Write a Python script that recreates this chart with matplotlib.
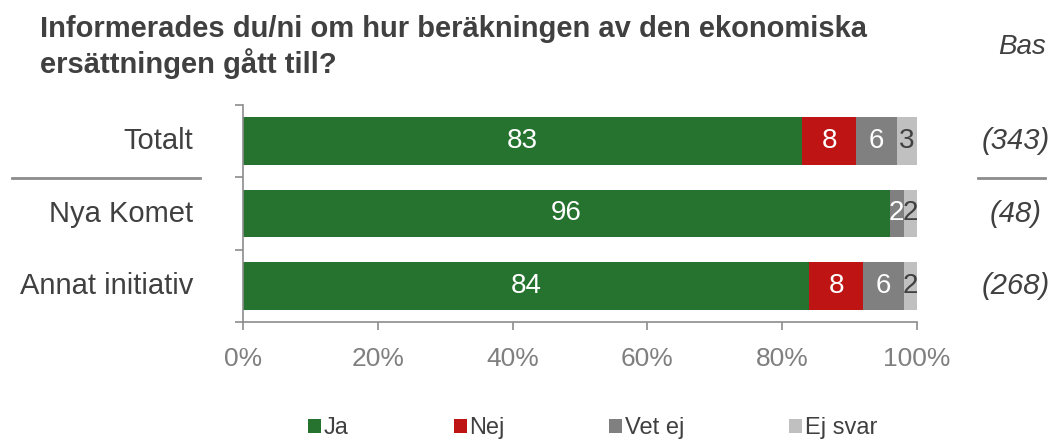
import matplotlib
matplotlib.use('Agg')
import matplotlib.pyplot as plt
from matplotlib.patches import Patch

plt.rcParams['font.family'] = ['Liberation Sans', 'DejaVu Sans']

# data
categories = ['Totalt', 'Nya Komet', 'Annat initiativ']
bases = ['(343)', '(48)', '(268)']
series = ['Ja', 'Nej', 'Vet ej', 'Ej svar']
ja = [83, 96, 84]
nej = [8, 0, 8]
vet_ej = [6, 2, 6]
ej_svar = [3, 2, 2]
ticks = [0, 20, 40, 60, 80, 100]
tick_labels = ['0%', '20%', '40%', '60%', '80%', '100%']

colors = ['#25732f', '#be1414', '#808080', '#c0c0c0']
label_colors = ['white', 'white', 'white', '#404040']
text_col = '#404040'
axis_col = '#8c8c8c'

fig = plt.figure(figsize=(10.62, 4.41), dpi=100)
ax = fig.add_axes([243 / 1062, 1 - 322 / 441, (917 - 243) / 1062, (322 - 105) / 441])

y = list(range(len(categories)))
left = [0] * len(categories)
for vals, col, lcol in zip([ja, nej, vet_ej, ej_svar], colors, label_colors):
    ax.barh(y, vals, left=left, height=0.66, color=col)
    for i, v in enumerate(vals):
        if v > 0:
            ax.text(left[i] + v / 2, i, str(v), ha='center', va='center',
                    color=lcol, fontsize=20)
    left = [l + v for l, v in zip(left, vals)]

ax.set_xlim(0, 100)
ax.set_ylim(2.5, -0.5)
ax.set_xticks(ticks)
ax.set_xticklabels(tick_labels, fontsize=19, color='#7f7f7f')
ax.set_yticks([-0.5, 0.5, 1.5, 2.5])
ax.set_yticklabels([])
ax.tick_params(axis='both', direction='out', length=6, color=axis_col, width=1.2)
ax.tick_params(axis='x', pad=12)
for s in ['top', 'right']:
    ax.spines[s].set_visible(False)
for s in ['left', 'bottom']:
    ax.spines[s].set_color(axis_col)
    ax.spines[s].set_linewidth(1.2)

# category labels and bases (offsets in points, 1px = 0.72pt)
for i, (c, b) in enumerate(zip(categories, bases)):
    ax.annotate(c, xy=(0, i), xycoords=('axes fraction', 'data'),
                xytext=(-36, 0), textcoords='offset points', ha='right', va='center',
                fontsize=21, color=text_col)
    ax.annotate(b, xy=(1, i), xycoords=('axes fraction', 'data'),
                xytext=(71, 0), textcoords='offset points', ha='center', va='center',
                fontsize=21, color=text_col, style='italic')

# separator lines below Totalt
sep_y = 1 - 178 / 441
fig.add_artist(plt.Line2D([12 / 1062, 200 / 1062], [sep_y, sep_y], color=axis_col, lw=2))
fig.add_artist(plt.Line2D([978 / 1062, 1045 / 1062], [sep_y, sep_y], color=axis_col, lw=2))

fig.text(40 / 1062, 1 - 15 / 441,
         'Informerades du/ni om hur beräkningen av den ekonomiska\nersättningen gått till?',
         ha='left', va='top', fontsize=21, fontweight='bold', color=text_col, linespacing=1.2)
fig.text(1022 / 1062, 1 - 47 / 441, 'Bas', ha='center', va='center', fontsize=20,
         style='italic', color=text_col)

handles = [Patch(facecolor=c, edgecolor='none') for c in colors]
leg = fig.legend(handles, series, loc='center', bbox_to_anchor=(0.558, 1 - 428 / 441), ncol=4,
                 frameon=False, fontsize=17, handlelength=0.55, handleheight=0.55,
                 handletextpad=0.1, columnspacing=4.45)
for t in leg.get_texts():
    t.set_color(text_col)

fig.savefig('out.png', dpi=100)
